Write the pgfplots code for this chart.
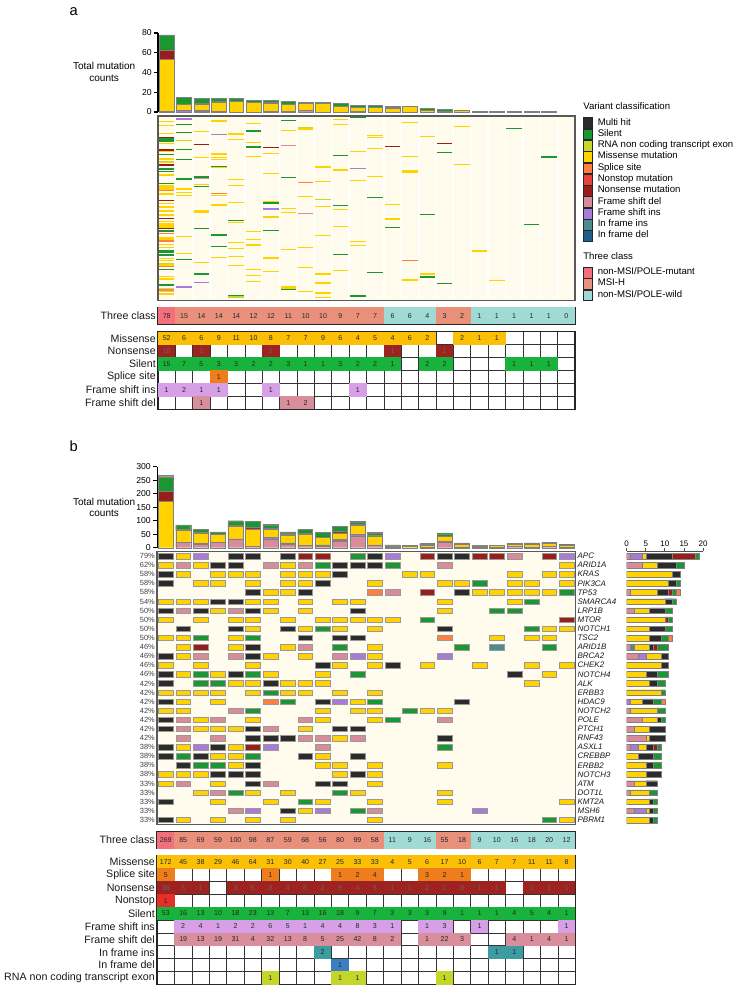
\documentclass[border=0pt]{standalone}
\usepackage{pgfplots}
\pgfplotsset{compat=1.18}
\usepackage{pgfplotstable}
\usepackage{fontspec}
\setmainfont{Liberation Sans}
\setsansfont{Liberation Sans}
\newcommand{\fs}[1]{\fontsize{#1pt}{#1pt}\selectfont}

\definecolor{cmulti}{HTML}{2B2B2B}
\definecolor{csilent}{HTML}{1A9632}
\definecolor{crna}{HTML}{C6D62A}
\definecolor{cmis}{HTML}{FFD200}
\definecolor{csplice}{HTML}{FF7F3F}
\definecolor{cnonstop}{HTML}{E8403A}
\definecolor{cnonsense}{HTML}{981E1E}
\definecolor{cfsdel}{HTML}{D88C9A}
\definecolor{cfsins}{HTML}{A87BD9}
\definecolor{cifins}{HTML}{4A8C90}
\definecolor{cifdel}{HTML}{1D5F8A}
\definecolor{cmut}{HTML}{F2707C}
\definecolor{cmsi}{HTML}{E9907B}
\definecolor{cwild}{HTML}{9FDAD4}
\definecolor{cream}{HTML}{FFFCEE}
\definecolor{tmis}{HTML}{FBBF06}
\definecolor{tsil}{HTML}{18B33C}
\definecolor{tspl}{HTML}{EE7D1B}
\definecolor{tins}{HTML}{D7A0E6}
\definecolor{tdel}{HTML}{D98E9B}
\definecolor{tnon}{HTML}{9E2220}
\definecolor{tstop}{HTML}{E5302A}
\definecolor{tifins}{HTML}{3D9BA2}
\definecolor{tifdel}{HTML}{3B7FC0}
\definecolor{trna}{HTML}{C5D62B}

\pgfdeclareplotmark{cellB}{\pgfpathrectangle{\pgfpoint{-5.6pt}{-2.05pt}}{\pgfpoint{11.2pt}{4.1pt}}\pgfusepathqfillstroke}
\pgfdeclareplotmark{cT}{\pgfpathrectangle{\pgfpoint{-6.6pt}{-6.35pt}}{\pgfpoint{13.2pt}{12.7pt}}\pgfusepathqfill}
\pgfdeclareplotmark{cR}{\pgfpathrectangle{\pgfpoint{-6.6pt}{-4.95pt}}{\pgfpoint{13.2pt}{9.9pt}}\pgfusepathqfill}

\pgfplotsset{
 every axis/.append style={/pgf/number format/assume math mode=true},
 tbl/.style={scale only axis, anchor=north west, xmin=-0.5, xmax=23.5, y dir=reverse,
  xtick={-0.5,0.5,...,23.5}, xticklabels={}, xmajorgrids=true,
  yminorgrids=true, ymajorgrids=false,
  major tick length=0pt, minor tick length=0pt,
  grid style={black!80, line width=0.45pt},
  axis line style={black!85, line width=0.9pt},
  axis on top,
  yticklabel style={font=\fs{8}, text=black!90, inner sep=1.5pt},
  nodes near coords, point meta=explicit symbolic,
  every node near coord/.append style={font=\fs{5.3}, anchor=center, inner sep=0pt, text=black!85},
 },
 tc/.style={only marks, mark=cT, mark options={fill=#1, draw=none}},
 rc/.style={only marks, mark=cR, mark options={fill=#1, draw=none}},
 oc/.style={only marks, mark=cellB, mark options={fill=#1, draw=black!40, line width=0.3pt}},
 ol/.style={only marks, mark=-, mark size=5.8pt, line width=0.9pt, color=#1},
 sb/.style={fill=#1, draw=black!50, line width=0.3pt},
}

\pgfplotstableread{
x V P Y O N G
0 1 0 52 0 10 15
1 2 0 6 0 0 7
2 1 1 6 0 1 5
3 1 0 9 1 0 3
4 0 0 11 0 0 3
5 0 0 10 0 0 2
6 1 0 8 0 1 2
7 0 1 7 0 0 3
8 0 2 7 0 0 1
9 0 0 9 0 0 1
10 0 0 6 0 0 3
11 1 0 4 0 0 2
12 0 0 5 0 0 2
13 0 0 4 0 1 1
14 0 0 6 0 0 0
15 0 0 2 0 0 2
16 0 0 0 0 1 2
17 0 0 2 0 0 0
18 0 0 1 0 0 0
19 0 0 1 0 0 0
20 0 0 0 0 0 1
21 0 0 0 0 0 1
22 0 0 0 0 0 1
23 0 0 0 0 0 0
}\abars

\pgfplotstableread{
x P V Ti Td Y N G O S R
0 0 0 0 0 172 38 53 5 1 0
1 19 2 0 0 45 3 16 0 0 0
2 13 4 0 0 38 1 13 0 0 0
3 19 1 0 0 29 0 10 0 0 0
4 31 2 0 0 46 3 18 0 0 0
5 4 2 0 0 64 5 23 0 0 0
6 32 6 0 0 31 3 13 1 0 1
7 13 5 0 0 30 4 7 0 0 0
8 8 1 0 0 40 6 13 0 0 0
9 5 4 2 0 27 2 16 0 0 0
10 25 4 0 1 25 5 18 1 0 1
11 42 8 0 0 33 4 9 2 0 1
12 8 3 0 0 33 3 7 4 0 0
13 2 1 0 0 4 1 3 0 0 0
14 0 0 0 0 5 1 3 0 0 0
15 1 1 0 0 6 2 3 3 0 0
16 22 3 0 0 17 1 9 2 0 1
17 3 0 0 0 10 3 1 1 0 0
18 0 1 0 0 6 1 1 0 0 0
19 0 0 1 0 7 1 1 0 0 0
20 4 0 1 0 7 0 4 0 0 0
21 1 0 0 0 11 1 5 0 0 0
22 4 0 0 0 11 1 4 0 0 0
23 1 1 0 0 8 1 1 0 0 0
}\bbars

\pgfplotstableread{
r P V T Y K N G O
0 1 3 0 1 7 6 1 0
1 4 0 0 4 5 0 2 0
2 0 0 0 12 2 0 0 0
3 0 0 0 11 2 0 1 0
4 1 0 0 7 3 1 1 1
5 0 0 0 10 2 0 1 0
6 2 0 0 4 4 0 2 0
7 0 0 0 10 0 1 1 0
8 0 0 0 6 4 0 2 0
9 0 0 0 6 3 0 2 1
10 1 0 1 4 1 1 3 0
11 3 2 0 4 2 0 0 0
12 0 0 0 9 2 0 0 0
13 0 0 0 5 3 0 3 0
14 0 0 0 6 2 0 2 0
15 0 0 0 9 0 0 1 0
16 0 1 0 3 3 0 2 1
17 1 0 0 7 0 0 2 0
18 4 0 0 4 1 0 1 0
19 2 0 0 4 4 0 0 0
20 5 0 0 1 4 0 0 0
21 1 2 0 2 2 1 1 0
22 0 0 0 3 4 0 2 0
23 0 0 0 5 2 0 2 0
24 0 0 0 5 4 0 0 0
25 2 0 0 3 3 0 0 0
26 1 0 0 5 0 0 2 0
27 0 0 0 6 1 0 1 0
28 2 3 0 1 1 0 1 0
29 0 0 0 6 1 0 1 0
}\rbars

\begin{document}
\begin{tikzpicture}
\useasboundingbox (0,0) rectangle (549.75pt,-739.5pt);

% ================= PANEL A =================
\begin{axis}[scale only axis, at={(118.5pt,-84pt)}, anchor=south west,
 width=312.75pt, height=59.25pt, xmin=-0.5, xmax=23.5, ymin=0, ymax=80,
 axis x line=none, axis y line*=left, y axis line style={-, black, line width=0.8pt},
 ytick={0,20,40,60,80}, tick align=outside, major tick length=3pt,
 ytick style={black, line width=0.8pt}, yticklabel style={font=\fs{6.5}, inner sep=1.5pt},
 ybar stacked, bar width=0.85, clip=false]
\addplot[sb=cfsins] table[x=x,y=V]{\abars};
\addplot[sb=cfsdel] table[x=x,y=P]{\abars};
\addplot[sb=cmis] table[x=x,y=Y]{\abars};
\addplot[sb=csplice] table[x=x,y=O]{\abars};
\addplot[sb=cnonsense] table[x=x,y=N]{\abars};
\addplot[sb=csilent] table[x=x,y=G]{\abars};
\end{axis}

\begin{axis}[scale only axis, at={(118.5pt,-87pt)}, anchor=north west,
 width=312.75pt, height=138.5pt, xmin=-0.5, xmax=23.5, ymin=3, ymax=557, y dir=reverse,
 axis line style={black!65, line width=1pt}, ticks=none, axis on top]
\addplot[ybar, bar width=0.92, fill=cream, draw=none] coordinates {(0,600)(1,600)(2,600)(3,600)(4,600)(5,600)(6,600)(7,600)(8,600)(9,600)(10,600)(11,600)(12,600)(13,600)(14,600)(15,600)(16,600)(17,600)(18,600)(19,600)(20,600)(21,600)(22,600)(23,600)};
\addplot[ol=cmis] coordinates {
(0,20)(0,32)(0,55)(0,86)(0,110)(0,132)(0,143)(0,180)(0,213)(0,218)(0,222)(0,237)(0,265)(0,276)(0,288)(0,300)(0,320)(0,325)(0,330)(0,336)(0,368)(0,372)(0,388)(0,398)(0,430)(0,437)(0,450)(0,485)(0,492)(0,520)(0,530)(0,537)
(1,222)(1,232)(1,241)(1,364)(1,415)
(2,50)(2,128)(2,208)(2,288)(2,292)(2,442)
(3,18)(3,117)(3,128)(3,134)(3,157)(3,242)(3,270)(3,427)
(4,57)(4,73)(4,194)(4,211)(4,262)(4,323)(4,383)(4,401)(4,424)(4,451)
(5,25)(5,82)(5,124)(5,349)(5,373)(5,390)(5,463)(5,481)(5,499)
(6,115)(6,175)(6,260)(6,306)(6,429)(6,469)
(7,46)(7,281)(7,293)(7,403)(7,516)(7,520)
(8,42)(8,245)(8,397)(8,458)(8,529)
(9,156)(9,199)(9,274)(9,362)(9,477)(9,504)(9,534)(9,547)
(10,13)(10,29)(10,165)(10,284)(10,334)(10,467)
(11,109)(11,197)(11,380)(11,391)
(12,62)(12,67)(12,100)(12,184)
(13,268)(13,312)
(14,22)(14,124)(14,168)(14,172)(14,495)
(15,64)(15,477)
(17,34)(17,149)
(18,408)
(19,497)};
\addplot[ol=csilent] coordinates {
(0,72)(0,78)(0,118)(0,162)(0,170)(0,205)(0,348)(0,408)(0,412)(0,420)(0,463)(0,510)
(1,28)(1,52)(1,103)(1,133)(1,192)(1,433)
(2,186)(2,215)(2,341)(2,476)(2,479)
(3,154)(3,360)(3,394)
(4,316)(4,541)
(5,48)(5,96)
(6,264)(6,346)
(7,16)(7,187)(7,524)
(10,121)(10,272)(10,419)
(11,8)(11,543)
(12,247)(12,472)
(13,337)
(15,298)(15,486)
(16,112)(16,506)
(20,40)(21,328)(22,126)};
\addplot[ol=cnonsense] coordinates {(0,68)(0,105)(0,150)(0,256)(0,310)(0,341)(2,89)(6,98)(13,94)(16,85)};
\addplot[ol=csplice] coordinates {(0,227)(0,355)(0,378)(0,455)(3,235)(8,203)(14,436)};
\addplot[ol=crna] coordinates {(0,140)(0,445)(1,77)(4,546)(8,38)(9,253)};
\addplot[ol=cfsdel] coordinates {(0,525)(2,190)(7,91)(8,295)};
\addplot[ol=cfsins] coordinates {(1,12)(1,516)(3,59)(6,282)(2,502)(11,160)};
\end{axis}

\begin{axis}[tbl, at={(118.5pt,-230.5pt)}, width=312.75pt, height=12.5pt, ymin=-0.5, ymax=0.5,
 ytick={0}, yticklabels={Three class}]
\addplot[tc=cmut] coordinates {(0,0)[78]};
\addplot[tc=cmsi] coordinates {(1,0)[15] (2,0)[14] (3,0)[14] (4,0)[14] (5,0)[12] (6,0)[12] (7,0)[11] (8,0)[10] (9,0)[10] (10,0)[9] (11,0)[7] (12,0)[7] (16,0)[3] (17,0)[2]};
\addplot[tc=cwild] coordinates {(13,0)[6] (14,0)[6] (15,0)[4] (18,0)[1] (19,0)[1] (20,0)[1] (21,0)[1] (22,0)[1] (23,0)[0]};
\end{axis}

\begin{axis}[tbl, at={(118.5pt,-248.8pt)}, width=312.75pt, height=58.2pt, ymin=-0.5, ymax=5.5,
 ytick={0,...,5}, yticklabels={Missense,Nonsense,Silent,Splice site,Frame shift ins,Frame shift del},
 minor ytick={0.5,1.5,...,4.5}]
\addplot[rc=tmis] coordinates {(0,0)[52] (1,0)[6] (2,0)[6] (3,0)[9] (4,0)[11] (5,0)[10] (6,0)[8] (7,0)[7] (8,0)[7] (9,0)[9] (10,0)[6] (11,0)[4] (12,0)[5] (13,0)[4] (14,0)[6] (15,0)[2] (17,0)[2] (18,0)[1] (19,0)[1]};
\addplot[rc=tnon, every node near coord/.append style={text=black!60}] coordinates {(0,1)[10] (2,1)[1] (6,1)[1] (13,1)[1] (16,1)[1]};
\addplot[rc=tsil] coordinates {(0,2)[15] (1,2)[7] (2,2)[5] (3,2)[3] (4,2)[3] (5,2)[2] (6,2)[2] (7,2)[3] (8,2)[1] (9,2)[1] (10,2)[3] (11,2)[2] (12,2)[2] (13,2)[1] (15,2)[2] (16,2)[2] (20,2)[1] (21,2)[1] (22,2)[1]};
\addplot[rc=tspl] coordinates {(3,3)[1]};
\addplot[rc=tins] coordinates {(0,4)[1] (1,4)[2] (2,4)[1] (3,4)[1] (6,4)[1] (11,4)[1]};
\addplot[rc=tdel] coordinates {(2,5)[1] (7,5)[1] (8,5)[2]};
\end{axis}

\begin{axis}[hide axis, scale only axis, width=10pt, height=10pt, at={(437.5pt,-88pt)}, anchor=north west,
  xmin=0, xmax=1, ymin=0, ymax=1,
  legend style={at={(0,1)}, anchor=north west, draw=none, fill=none, inner sep=0pt, outer sep=0pt,
    font=\fs{7.2}, row sep=0pt, column sep=4.2pt,
    nodes={inner sep=0pt, text height=5.6pt, text depth=2.52pt}},
  legend cell align=left,
  legend image code/.code={\draw[#1, draw=black!85, line width=0.35pt] (0pt,-4.06pt) rectangle (6.3pt,4.06pt);}]
\addlegendimage{fill=cmulti}\addlegendentry{Multi hit}
\addlegendimage{fill=csilent}\addlegendentry{Silent}
\addlegendimage{fill=crna}\addlegendentry{RNA non coding transcript exon}
\addlegendimage{fill=cmis}\addlegendentry{Missense mutation}
\addlegendimage{fill=csplice}\addlegendentry{Splice site}
\addlegendimage{fill=cnonstop}\addlegendentry{Nonstop mutation}
\addlegendimage{fill=cnonsense}\addlegendentry{Nonsense mutation}
\addlegendimage{fill=cfsdel}\addlegendentry{Frame shift del}
\addlegendimage{fill=cfsins}\addlegendentry{Frame shift ins}
\addlegendimage{fill=cifins}\addlegendentry{In frame ins}
\addlegendimage{fill=cifdel}\addlegendentry{In frame del}
\end{axis}
\begin{axis}[hide axis, scale only axis, width=10pt, height=10pt, at={(437.5pt,-200.2pt)}, anchor=north west,
  xmin=0, xmax=1, ymin=0, ymax=1,
  legend style={at={(0,1)}, anchor=north west, draw=none, fill=none, inner sep=0pt, outer sep=0pt,
    font=\fs{7.2}, row sep=0pt, column sep=4.2pt,
    nodes={inner sep=0pt, text height=5.6pt, text depth=2.52pt}},
  legend cell align=left,
  legend image code/.code={\draw[#1, draw=black!85, line width=0.35pt] (0pt,-4.06pt) rectangle (6.3pt,4.06pt);}]
\addlegendimage{fill=cmut}\addlegendentry{non-MSI/POLE-mutant}
\addlegendimage{fill=cmsi}\addlegendentry{MSI-H}
\addlegendimage{fill=cwild}\addlegendentry{non-MSI/POLE-wild}
\end{axis}

% ================= PANEL B =================
\begin{axis}[scale only axis, at={(117.8pt,-410.8pt)}, anchor=south west,
 width=313.7pt, height=60.75pt, xmin=-0.5, xmax=23.5, ymin=0, ymax=300,
 axis x line=none, axis y line*=left, y axis line style={-, black, line width=0.8pt},
 ytick={0,50,...,300}, tick align=outside, major tick length=3pt,
 ytick style={black, line width=0.8pt}, yticklabel style={font=\fs{6.5}, inner sep=1.5pt},
 ybar stacked, bar width=0.86, clip=false]
\addplot[sb=cfsdel] table[x=x,y=P]{\bbars};
\addplot[sb=cfsins] table[x=x,y=V]{\bbars};
\addplot[sb=cifins] table[x=x,y=Ti]{\bbars};
\addplot[sb=cifdel] table[x=x,y=Td]{\bbars};
\addplot[sb=cmis] table[x=x,y=Y]{\bbars};
\addplot[sb=cnonsense] table[x=x,y=N]{\bbars};
\addplot[sb=csilent] table[x=x,y=G]{\bbars};
\addplot[sb=csplice] table[x=x,y=O]{\bbars};
\addplot[sb=cnonstop] table[x=x,y=S]{\bbars};
\addplot[sb=crna] table[x=x,y=R]{\bbars};
\end{axis}

\begin{axis}[scale only axis, at={(117.8pt,-413.6pt)}, anchor=north west,
 width=313.7pt, height=204.75pt, xmin=-0.5, xmax=23.5, ymin=-0.5, ymax=29.5, y dir=reverse,
 axis background/.style={fill=cream},
 axis line style={black!65, line width=1pt},
 xtick=\empty, ytick={0,...,29}, major tick length=0pt,
 yticklabels={79\%,62\%,58\%,58\%,58\%,54\%,50\%,50\%,50\%,50\%,46\%,46\%,46\%,46\%,42\%,42\%,42\%,42\%,42\%,42\%,42\%,38\%,38\%,38\%,38\%,33\%,33\%,33\%,33\%,33\%},
 yticklabel style={font=\fs{5.6}, text=black!75, inner sep=1.5pt}]
\addplot[oc=cmulti] coordinates {(0,0)(4,0)(5,0)(7,0)(12,0)(16,0)(17,0)
(3,1)(4,1)(10,1)(11,1)(12,1)(0,2)(10,2)(0,3)(9,3)(5,4)(8,4)(17,4)(3,5)(4,5)
(0,6)(2,6)(5,6)(11,6)(1,8)(4,8)(7,8)(16,8)(8,9)(10,9)(11,9)(5,10)(0,11)(5,11)
(9,12)(13,12)(0,13)(4,13)(20,13)(0,14)(6,14)(0,16)(9,16)(17,16)(0,18)
(0,19)(5,19)(10,19)(11,19)(5,20)(6,20)(7,20)(16,20)(0,21)(3,21)
(0,22)(2,22)(8,22)(11,22)(1,23)(5,23)(3,24)(4,24)(5,24)(11,24)
(5,25)(9,25)(10,25)(0,27)(7,28)(0,29)};
\addplot[oc=cmis] coordinates {(1,0)
(0,1)(2,1)(7,1)(23,1)
(1,2)(3,2)(4,2)(5,2)(7,2)(8,2)(9,2)(14,2)(15,2)(20,2)(22,2)(23,2)
(2,3)(3,3)(5,3)(7,3)(8,3)(12,3)(16,3)(17,3)(20,3)(21,3)(23,3)
(6,4)(7,4)(18,4)(19,4)(20,4)(21,4)(22,4)
(0,5)(1,5)(2,5)(5,5)(6,5)(8,5)(10,5)(11,5)(16,5)(20,5)
(3,6)(6,6)(8,6)(16,6)
(0,7)(2,7)(4,7)(5,7)(7,7)(9,7)(10,7)(11,7)(12,7)(13,7)
(5,8)(8,8)(10,8)(12,8)(22,8)(23,8)
(0,9)(1,9)(4,9)(19,9)(21,9)(22,9)
(1,10)(4,10)(7,10)(12,10)
(1,11)(6,11)(8,11)(12,11)
(0,12)(2,12)(5,12)(10,12)(12,12)(15,12)(18,12)(21,12)(23,12)
(1,13)(3,13)(6,13)(9,13)(22,13)
(4,14)(5,14)(7,14)(8,14)(9,14)(21,14)
(0,15)(1,15)(2,15)(3,15)(5,15)(7,15)(8,15)(10,15)(12,15)
(1,16)(3,16)(11,16)
(0,17)(1,17)(9,17)(11,17)(12,17)(15,17)(16,17)
(2,18)(5,18)(9,18)(12,18)
(2,19)(3,19)(4,19)(8,19)
(10,20)
(1,21)(4,21)
(3,22)(4,22)(9,22)
(4,23)(9,23)(10,23)(12,23)(16,23)
(0,24)(1,24)(2,24)(10,24)(12,24)
(0,25)(3,25)(12,25)
(2,26)(5,26)(7,26)(11,26)(16,26)
(3,27)(6,27)(9,27)(12,27)(16,27)(23,27)
(8,28)
(1,29)(3,29)(5,29)(7,29)(12,29)(23,29)};
\addplot[oc=cfsdel] coordinates {(20,0)(1,1)(6,1)(8,1)(16,1)(13,4)(1,6)(4,6)(8,10)(2,11)(4,11)(10,11)(4,17)(1,18)(3,18)(8,18)(16,18)(1,19)(6,19)(1,20)(3,20)(8,20)(9,20)(11,20)(9,21)(1,25)(6,25)(3,26)(4,28)(12,28)};
\addplot[oc=cfsins] coordinates {(2,0)(13,0)(23,0)(11,11)(16,11)(10,16)(2,21)(6,21)(5,28)(9,28)(18,28)};
\addplot[oc=cnonsense] coordinates {(8,0)(9,0)(15,0)(18,0)(19,0)(22,0)(15,4)(23,7)(2,10)(5,21)};
\addplot[oc=csilent] coordinates {(11,0)(9,1)(13,1)(18,3)(23,4)(21,5)(19,6)(20,6)(15,7)(9,8)(21,8)(2,9)(5,9)(10,10)(17,10)(22,10)(2,13)(5,13)(11,13)(2,14)(3,14)(6,15)(7,16)(12,16)(5,17)(14,17)(13,18)(16,21)(1,22)(5,22)(2,23)(3,23)(4,26)(10,26)(8,27)(11,28)(22,29)};
\addplot[oc=csplice] coordinates {(12,4)(16,9)(6,16)};
\addplot[oc=cifins] coordinates {(19,10)};
\end{axis}
\begin{axis}[scale only axis, at={(117.8pt,-413.6pt)}, anchor=north west,
 width=313.7pt, height=204.75pt, xmin=-0.5, xmax=23.5, ymin=-0.5, ymax=29.5, y dir=reverse,
 axis line style={draw=none}, xtick=\empty, ytick={0,...,29}, major tick length=0pt,
 yticklabel pos=right,
 yticklabels={APC,ARID1A,KRAS,PIK3CA,TP53,SMARCA4,LRP1B,MTOR,NOTCH1,TSC2,ARID1B,BRCA2,CHEK2,NOTCH4,ALK,ERBB3,HDAC9,NOTCH2,POLE,PTCH1,RNF43,ASXL1,CREBBP,ERBB2,NOTCH3,ATM,DOT1L,KMT2A,MSH6,PBRM1},
 yticklabel style={font=\fs{6}\itshape, text=black!90, inner sep=1.5pt}]
\end{axis}
\begin{axis}[scale only axis, at={(470pt,-413.6pt)}, anchor=north west,
 width=57.3pt, height=204.75pt, xmin=0, xmax=20, ymin=-0.5, ymax=29.5, y dir=reverse,
 xbar stacked, bar width=0.62,
 axis x line*=top, axis y line=none, x axis line style={-, black!70, line width=0.6pt},
 xtick={0,5,10,15,20}, tick align=outside, major tick length=2.5pt,
 xtick style={black!70, line width=0.6pt},
 xticklabel style={font=\fs{6}, inner sep=1pt}]
\addplot[sb=cfsdel] table[x=P,y=r]{\rbars};
\addplot[sb=cfsins] table[x=V,y=r]{\rbars};
\addplot[sb=cifins] table[x=T,y=r]{\rbars};
\addplot[sb=cmis] table[x=Y,y=r]{\rbars};
\addplot[sb=cmulti] table[x=K,y=r]{\rbars};
\addplot[sb=cnonsense] table[x=N,y=r]{\rbars};
\addplot[sb=csilent] table[x=G,y=r]{\rbars};
\addplot[sb=csplice] table[x=O,y=r]{\rbars};
\end{axis}

\begin{axis}[tbl, at={(117.8pt,-623.8pt)}, width=313.7pt, height=12.45pt, ymin=-0.5, ymax=0.5,
 ytick={0}, yticklabels={Three class}]
\addplot[tc=cmut] coordinates {(0,0)[269]};
\addplot[tc=cmsi] coordinates {(1,0)[85] (2,0)[69] (3,0)[59] (4,0)[100] (5,0)[98] (6,0)[87] (7,0)[59] (8,0)[68] (9,0)[56] (10,0)[80] (11,0)[99] (12,0)[58] (16,0)[55] (17,0)[18]};
\addplot[tc=cwild] coordinates {(13,0)[11] (14,0)[9] (15,0)[16] (18,0)[9] (19,0)[10] (20,0)[16] (21,0)[18] (22,0)[20] (23,0)[12]};
\end{axis}

\begin{axis}[tbl, at={(117.8pt,-641.6pt)}, width=313.7pt, height=96.75pt, ymin=-0.5, ymax=9.5,
 ytick={0,...,9}, yticklabels={Missense,Splice site,Nonsense,Nonstop,Silent,Frame shift ins,Frame shift del,In frame ins,In frame del,RNA non coding transcript exon},
 minor ytick={0.5,1.5,...,8.5}]
\addplot[rc=tmis] coordinates {(0,0)[172] (1,0)[45] (2,0)[38] (3,0)[29] (4,0)[46] (5,0)[64] (6,0)[31] (7,0)[30] (8,0)[40] (9,0)[27] (10,0)[25] (11,0)[33] (12,0)[33] (13,0)[4] (14,0)[5] (15,0)[6] (16,0)[17] (17,0)[10] (18,0)[6] (19,0)[7] (20,0)[7] (21,0)[11] (22,0)[11] (23,0)[8]};
\addplot[rc=tspl] coordinates {(0,1)[5] (6,1)[1] (10,1)[1] (11,1)[2] (12,1)[4] (15,1)[3] (16,1)[2] (17,1)[1]};
\addplot[rc=tnon, every node near coord/.append style={text=black!60}] coordinates {(0,2)[38] (1,2)[3] (2,2)[1] (4,2)[3] (5,2)[5] (6,2)[3] (7,2)[4] (8,2)[6] (9,2)[2] (10,2)[5] (11,2)[4] (12,2)[3] (13,2)[1] (14,2)[1] (15,2)[2] (16,2)[1] (17,2)[3] (18,2)[1] (19,2)[1] (21,2)[1] (22,2)[1] (23,2)[1]};
\addplot[rc=tstop] coordinates {(0,3)[1]};
\addplot[rc=tsil] coordinates {(0,4)[53] (1,4)[16] (2,4)[13] (3,4)[10] (4,4)[18] (5,4)[23] (6,4)[13] (7,4)[7] (8,4)[13] (9,4)[16] (10,4)[18] (11,4)[9] (12,4)[7] (13,4)[3] (14,4)[3] (15,4)[3] (16,4)[9] (17,4)[1] (18,4)[1] (19,4)[1] (20,4)[4] (21,4)[5] (22,4)[4] (23,4)[1]};
\addplot[rc=tins] coordinates {(1,5)[2] (2,5)[4] (3,5)[1] (4,5)[2] (5,5)[2] (6,5)[6] (7,5)[5] (8,5)[1] (9,5)[4] (10,5)[4] (11,5)[8] (12,5)[3] (13,5)[1] (15,5)[1] (16,5)[3] (18,5)[1] (23,5)[1]};
\addplot[rc=tdel] coordinates {(1,6)[19] (2,6)[13] (3,6)[19] (4,6)[31] (5,6)[4] (6,6)[32] (7,6)[13] (8,6)[8] (9,6)[5] (10,6)[25] (11,6)[42] (12,6)[8] (13,6)[2] (15,6)[1] (16,6)[22] (17,6)[3] (20,6)[4] (21,6)[1] (22,6)[4] (23,6)[1]};
\addplot[rc=tifins] coordinates {(9,7)[2] (19,7)[1] (20,7)[1]};
\addplot[rc=tifdel] coordinates {(10,8)[1]};
\addplot[rc=trna] coordinates {(6,9)[1] (10,9)[1] (11,9)[1] (16,9)[1]};
\end{axis}

% ================= TEXT =================
\node[anchor=north west, font=\fs{11}] at (48.75pt,-2pt) {a};
\node[anchor=north west, font=\fs{11}] at (48.75pt,-327pt) {b};
\node[anchor=east, align=center, font=\fontsize{7.5pt}{8.6pt}\selectfont] at (105pt,-54pt) {Total mutation\\counts};
\node[anchor=east, align=center, font=\fontsize{7.5pt}{8.6pt}\selectfont] at (105pt,-380.4pt) {Total mutation\\counts};
\node[anchor=west, font=\fs{7.2}, inner sep=0pt] at (437.3pt,-79.5pt) {Variant classification};
\node[anchor=west, font=\fs{7.2}, inner sep=0pt] at (437.3pt,-191.8pt) {Three class};
\end{tikzpicture}
\end{document}
